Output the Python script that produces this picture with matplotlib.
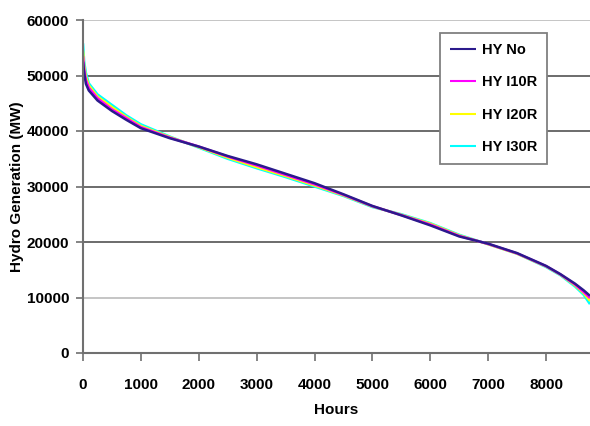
import matplotlib
matplotlib.use("Agg")
import matplotlib.pyplot as plt

plt.rcParams['font.family'] = ['Liberation Sans', 'DejaVu Sans']

hours = [0, 20, 50, 100, 250, 500, 750, 1000, 1500, 2000, 2500, 3000, 3500, 4000,
         4500, 5000, 5500, 6000, 6500, 7000, 7500, 8000, 8250, 8500, 8650, 8760]

hy_no = [52500, 50500, 48500, 47300, 45500, 43600, 42000, 40500, 38700, 37200, 35500,
         34000, 32300, 30600, 28600, 26500, 24800, 23000, 21000, 19700, 18000, 15700,
         14200, 12500, 11300, 10300]
hy_i10r = [53500, 51200, 49200, 47800, 45900, 43900, 42300, 40700, 38800, 37200, 35400,
           33800, 32100, 30400, 28500, 26450, 24850, 23150, 21100, 19650, 17950, 15650,
           14150, 12350, 11000, 9900]
hy_i20r = [54500, 51800, 49800, 48200, 46200, 44300, 42500, 40900, 38900, 37100, 35200,
           33500, 31900, 30200, 28400, 26400, 24900, 23300, 21200, 19600, 17900, 15600,
           14100, 12200, 10800, 9400]
hy_i30r = [55800, 52500, 50500, 48600, 46600, 44700, 42800, 41200, 39000, 37000, 35000,
           33300, 31700, 30000, 28300, 26300, 25000, 23400, 21300, 19600, 17900, 15500,
           14000, 12000, 10500, 8800]

series = [("HY No", hy_no, "#2B1A8C"), ("HY I10R", hy_i10r, "#FF00FF"),
          ("HY I20R", hy_i20r, "#FFFF00"), ("HY I30R", hy_i30r, "#00FFFF")]

yticks = [0, 10000, 20000, 30000, 40000, 50000, 60000]
xticks = [0, 1000, 2000, 3000, 4000, 5000, 6000, 7000, 8000]

fig = plt.figure(figsize=(5.9, 4.26), dpi=100)
ax = fig.add_axes([83/590, 1-353/426, 1-83/590, (353-20)/426])

lines = {}
for name, vals, col in reversed(series):
    ln, = ax.plot(hours, vals, color=col, lw=1.8, label=name, solid_capstyle='butt')
    lines[name] = ln

ax.set_xlim(0, 8760)
ax.set_ylim(0, 60000)
ax.set_yticks(yticks)
ax.set_xticks(xticks)
for y in yticks[1:]:
    c = "#c0c0c0" if y in (10000, 60000) else "#606060"
    ax.axhline(y, color=c, lw=1.3, zorder=0)

for s in ['top', 'right']:
    ax.spines[s].set_visible(False)
for s in ['left', 'bottom']:
    ax.spines[s].set_color("#707070")
    ax.spines[s].set_linewidth(1.5)

ax.tick_params(axis='y', length=5, width=1.2, color="#707070", pad=5,
               labelsize=11)
ax.tick_params(axis='x', length=6, width=1.2, color="#707070", pad=12,
               labelsize=11)
for lab in ax.get_xticklabels() + ax.get_yticklabels():
    lab.set_fontweight('bold')

ax.set_xlabel("Hours", fontsize=11, fontweight='bold', labelpad=8)
fig.text(0.029, 1-187/426, "Hydro Generation (MW)", rotation=90, fontsize=11,
         fontweight='bold', ha='center', va='center')

handles = [lines[n] for n, _, _ in series]
leg = ax.legend(handles, [n for n, _, _ in series], loc='upper left',
                bbox_to_anchor=(440/590, 1-33/426), bbox_transform=fig.transFigure,
                fancybox=False, framealpha=1, edgecolor="#808080",
                prop={'weight': 'bold', 'size': 10.5}, handlelength=1.8,
                labelspacing=1.25, borderpad=0.7, handletextpad=0.35,
                borderaxespad=0)
leg.get_frame().set_linewidth(1.3)
for h in leg.legend_handles:
    h.set_linewidth(1.5)

fig.savefig("out.png", dpi=100)
